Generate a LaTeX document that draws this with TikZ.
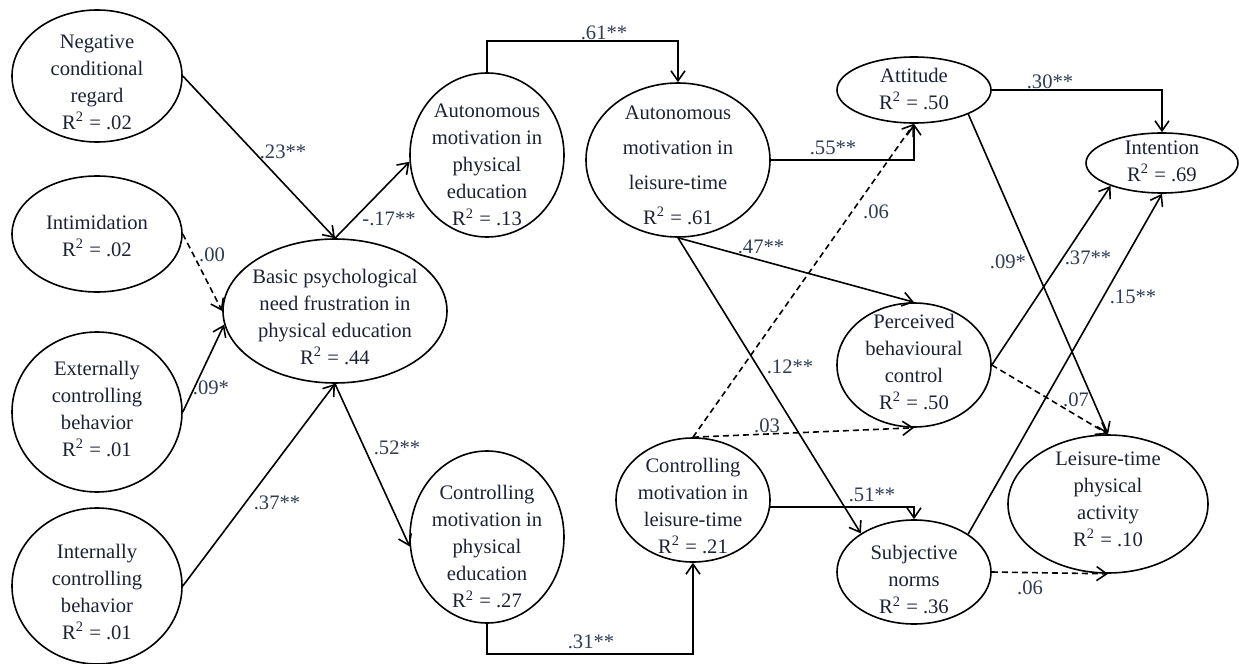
\documentclass[tikz,border=0pt]{standalone}
\usepackage{fontspec}
\setmainfont{Liberation Serif}
\usepackage{xcolor}
\definecolor{VARcolor}{HTML}{1C2233}
\definecolor{COEFcolor}{HTML}{2F3C52}
\usepackage{tikz}
\usetikzlibrary{shapes.geometric,arrows.meta}
% text lowered inside its ellipse, the ellipse size is set by the node options
\newcommand{\vartext}[2]{\raisebox{#1}[0pt][0pt]{\begin{tabular}[c]{@{}c@{}}#2\end{tabular}}}

\tikzset{
    var/.style={ellipse, draw, line width=0.8pt, inner sep=-12pt,
        text=VARcolor, font=\fontsize{10.3}{13.5}\selectfont},
    link/.style={-{Straight Barb[length=5pt,width=7pt]}, line width=0.8pt},
    nslink/.style={link, dash pattern=on 3pt off 2pt},
    coef/.style={text=COEFcolor, inner sep=0pt, font=\fontsize{10.3}{12}\selectfont},
}

\begin{document}
\begin{tikzpicture}[x=0.5pt, y=-0.5pt]
    \useasboundingbox (0, 0) rectangle (1239, 664);

    % physical education context
    \node [var, minimum width=85pt, minimum height=66pt] (ncr) at (97, 76)
        {\vartext{-6.1pt}{Negative\\conditional\\regard\\R\textsuperscript{2} = .02}};
    \node [var, minimum width=85pt, minimum height=58pt] (intim) at (97, 234)
        {\vartext{-4.1pt}{Intimidation\\R\textsuperscript{2} = .02}};
    \node [var, minimum width=85pt, minimum height=80pt] (ecb) at (97, 412)
        {\vartext{-1.6pt}{Externally\\controlling\\behavior\\R\textsuperscript{2} = .01}};
    \node [var, minimum width=85pt, minimum height=78pt] (icb) at (97, 586)
        {\vartext{-6.1pt}{Internally\\controlling\\behavior\\R\textsuperscript{2} = .01}};
    \node [var, minimum width=112pt, minimum height=72pt] (bpn) at (335, 311)
        {\vartext{-6.1pt}{Basic psychological\\need frustration in\\physical education\\R\textsuperscript{2} = .44}};
    \node [var, minimum width=77pt, minimum height=82pt] (ampe) at (487, 155)
        {\vartext{-8.1pt}{Autonomous\\motivation in\\physical\\education\\R\textsuperscript{2} = .13}};
    \node [var, minimum width=77pt, minimum height=86pt] (cmpe) at (487, 537)
        {\vartext{-8.1pt}{Controlling\\motivation in\\physical\\education\\R\textsuperscript{2} = .27}};

    % leisure-time context
    \node [var, minimum width=92pt, minimum height=77pt] (amlt) at (678, 160)
        {\vartext{-5.6pt}{Autonomous\\[4pt]motivation in\\[4pt]leisure-time\\[4pt]R\textsuperscript{2} = .61}};
    \node [var, minimum width=77pt, minimum height=62pt] (cmlt) at (693, 500)
        {\vartext{-6.1pt}{Controlling\\motivation in\\leisure-time\\R\textsuperscript{2} = .21}};
    \node [var, minimum width=77pt, minimum height=33pt] (att) at (914, 90)
        {\vartext{-2.6pt}{Attitude\\R\textsuperscript{2} = .50}};
    \node [var, minimum width=77pt, minimum height=62pt] (pbc) at (914, 365)
        {\vartext{-1.6pt}{Perceived\\behavioural\\control\\R\textsuperscript{2} = .50}};
    \node [var, minimum width=77pt, minimum height=52pt] (sn) at (914, 572)
        {\vartext{-7.1pt}{Subjective\\norms\\R\textsuperscript{2} = .36}};
    \node [var, minimum width=76pt, minimum height=30pt] (intn) at (1162, 163)
        {\vartext{-2.1pt}{Intention\\R\textsuperscript{2} = .69}};
    \node [var, minimum width=100pt, minimum height=69pt] (ltpa) at (1108, 504)
        {\vartext{-0.6pt}{Leisure-time\\physical\\activity\\R\textsuperscript{2} = .10}};

    % paths
    \draw [link] (ncr.east) -- (bpn.north);
    \draw [nslink] (intim.east) -- (bpn.west);
    \draw [link] (ecb.east) -- (bpn.187);
    \draw [link] (icb.east) -- (bpn.south);
    \draw [link] (bpn.north) -- (ampe.185);
    \draw [link] (bpn.south) -- (cmpe.187);
    \draw [link] (ampe.north) -- ++(0, -31) -| (amlt.north);
    \draw [link] (cmpe.south) -- ++(0, 30) -| (cmlt.south);
    \draw [link] (amlt.east) -| (att.south);
    \draw [link] (amlt.south) -- (pbc.north);
    \draw [link] (amlt.south) -- (sn.144);
    \draw [nslink] (cmlt.north) -- (att.south);
    \draw [nslink] (cmlt.north) -- (pbc.south);
    \draw [link] (cmlt.-5) -| (sn.north);
    \draw [link] (att.east) -| (intn.north);
    \draw [link] (att.-24) -- (ltpa.north);
    \draw [link] (pbc.east) -- (intn.204);
    \draw [nslink] (pbc.east) -- (ltpa.north);
    \draw [link] (sn.35) -- (intn.south);
    \draw [nslink] (sn.east) -- (ltpa.south);

    % coefficients
    \node [coef] (c-ncr) at (283, 152) {.23**};
    \node [coef] (c-intim) at (212, 255) {.00};
    \node [coef] (c-ecb) at (211, 388) {.09*};
    \node [coef] (c-icb) at (277, 503) {.37**};
    \node [coef] (c-ampe) at (389, 219) {-.17**};
    \node [coef] (c-cmpe) at (397, 448) {.52**};
    \node [coef] (c-amam) at (604, 33) {.61**};
    \node [coef] (c-cmcm) at (591, 642) {.31**};
    \node [coef] (c-amatt) at (833, 148) {.55**};
    \node [coef] (c-ampbc) at (761, 247) {.47**};
    \node [coef] (c-amsn) at (790, 367) {.12**};
    \node [coef] (c-cmatt) at (876, 212) {.06};
    \node [coef] (c-cmpbc) at (767, 426) {.03};
    \node [coef] (c-cmsn) at (872, 495) {.51**};
    \node [coef] (c-attint) at (1050, 82) {.30**};
    \node [coef] (c-attpa) at (1008, 262) {.09*};
    \node [coef] (c-pbcint) at (1088, 258) {.37**};
    \node [coef] (c-pbcpa) at (1076, 400) {.07};
    \node [coef] (c-snint) at (1133, 297) {.15**};
    \node [coef] (c-snpa) at (1030, 588) {.06};
\end{tikzpicture}
\end{document}
